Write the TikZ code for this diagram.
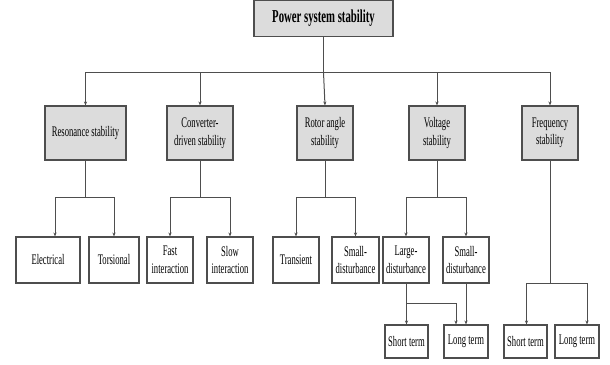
\documentclass[tikz,border=0pt]{standalone}
\usepackage{fontspec}
\setmainfont{Liberation Serif}[FakeStretch=0.59]
\usetikzlibrary{arrows.meta}
\definecolor{boxgray}{RGB}{220,220,220}
\definecolor{linegray}{RGB}{78,78,78}
\tikzset{
  font={\fontsize{14.6pt}{17.5pt}\selectfont}}

\begin{document}
\begin{tikzpicture}[x=1pt,y=-1pt]
\tikzstyle{every node}+=[inner sep=0pt]
\tikzset{
  graybox/.style={draw=linegray,line width=1.1pt,fill=boxgray,minimum height=54pt,align=center},
  leafbox/.style={draw=linegray,line width=1.1pt,fill=white,align=center},
  link/.style={draw=linegray,line width=1pt},
  arr/.style={link,-{Stealth[length=4pt,width=3.2pt]}}
}
\useasboundingbox (0,0) rectangle (610,364);
\node[graybox,minimum width=139pt,minimum height=36pt,font=\fontsize{18.2pt}{20pt}\selectfont\bfseries] (pss) at (323.5,18.5) {Power system stability};
\node[graybox,minimum width=81pt] (res) at (85.5,133) {Resonance stability};
\node[graybox,minimum width=66pt] (cds) at (200,133) {Converter-\\driven stability};
\node[graybox,minimum width=56pt] (rot) at (325,133) {Rotor angle\\stability};
\node[graybox,minimum width=56pt] (vol) at (437,133) {Voltage\\stability};
\node[graybox,minimum width=56pt] (frq) at (550,133) {Frequency\\stability};
\node[leafbox,minimum width=64pt,minimum height=46pt] (ele) at (48,260) {Electrical};
\node[leafbox,minimum width=50pt,minimum height=46pt] (tor) at (114,260) {Torsional};
\node[leafbox,minimum width=46pt,minimum height=46pt] (fint) at (170,260) {Fast\\interaction};
\node[leafbox,minimum width=46pt,minimum height=46pt] (sint) at (230,260) {Slow\\interaction};
\node[leafbox,minimum width=46pt,minimum height=46pt] (trn) at (296,260) {Transient};
\node[leafbox,minimum width=47pt,minimum height=46pt] (sdr) at (355.5,260) {Small-\\disturbance};
\node[leafbox,minimum width=46pt,minimum height=46pt] (ldv) at (406,260) {Large-\\disturbance};
\node[leafbox,minimum width=46pt,minimum height=46pt] (sdv) at (466,260) {Small-\\disturbance};
\node[leafbox,minimum width=43pt,minimum height=33pt] (vst) at (406.5,341.5) {Short term};
\node[leafbox,minimum width=44pt,minimum height=33pt] (vlt) at (466,341.5) {Long term};
\node[leafbox,minimum width=43pt,minimum height=33pt] (fst) at (525.5,341.5) {Short term};
\node[leafbox,minimum width=44pt,minimum height=33pt] (flt) at (577,341.5) {Long term};
\coordinate (bus) at (323.5,72.5);
\draw[link] (pss.south) -- (bus);
\draw[arr] (bus) -| (res.north);
\draw[arr] (bus) -| (cds.north);
\draw[arr] (bus) -- (rot.north);
\draw[arr] (bus) -| (vol.north);
\draw[arr] (bus) -| (frq.north);
\draw[link] (res.south) -- ++(0,37) coordinate (resj);
\draw[arr] (resj) -| ([xshift=7pt]ele.north);
\draw[arr] (resj) -| (tor.north);
\draw[link] (cds.south) -- ++(0,37) coordinate (cdsj);
\draw[arr] (cdsj) -| (fint.north);
\draw[arr] (cdsj) -| (sint.north);
\draw[link] (rot.south) -- ++(0,37) coordinate (rotj);
\draw[arr] (rotj) -| (trn.north);
\draw[arr] (rotj) -| (sdr.north);
\draw[link] (vol.south) -- ++(0,37) coordinate (volj);
\draw[arr] (volj) -| (ldv.north);
\draw[arr] (volj) -| (sdv.north);
\draw[link] (ldv.south) -- ++(0,20) coordinate (ldvj);
\draw[arr] (ldvj) -| (vst.north);
\draw[arr] (ldvj) -| ([xshift=-10pt]vlt.north);
\draw[arr] (sdv.south) -- (vlt.north);
\draw[link] (frq.south) -- ++(0,123) coordinate (frqj);
\draw[arr] (frqj) -| ([xshift=1pt]fst.north);
\draw[arr] (frqj) -| ([xshift=10pt]flt.north);
\end{tikzpicture}
\end{document}
